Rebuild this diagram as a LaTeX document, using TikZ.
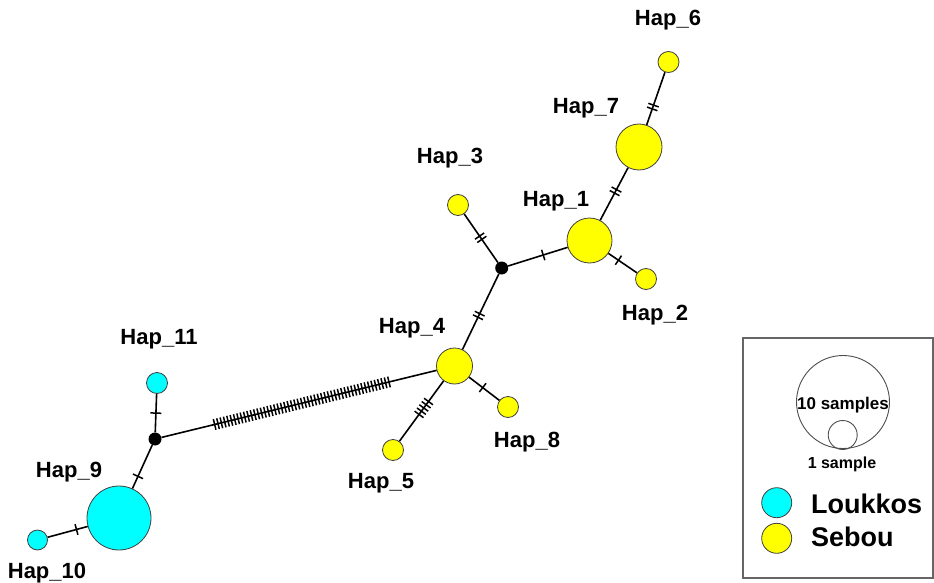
\documentclass[tikz,border=0pt]{standalone}
\usepackage{fontspec}
\setmainfont{Liberation Sans}
\usetikzlibrary{decorations.markings}
\definecolor{hcyan}{RGB}{0,255,255}
\definecolor{hyellow}{RGB}{255,255,0}
\tikzset{
  hapnode/.style={circle, draw=black!75, line width=0.8pt, inner sep=0pt, minimum size=#1},
  sebou/.style={hapnode=#1, fill=hyellow},
  loukkos/.style={hapnode=#1, fill=hcyan},
  median/.style={circle, fill=black, inner sep=0pt, minimum size=13pt},
  hlabel/.style={font=\bfseries\fontsize{22}{26}\selectfont, anchor=base, inner sep=0pt},
  edge/.style={line width=1.6pt},
  ticks/.style n args={3}{postaction={decorate, decoration={markings, mark=at position #3 with {\foreach \k in {1,...,#1}{\draw[line width=1.5pt] ({(\k-(#1+1)/2)*#2*1pt},-5.5pt) -- ({(\k-(#1+1)/2)*#2*1pt},5.5pt);}}}}},
}
\begin{document}
\begin{tikzpicture}[x=1pt,y=-1pt]
\useasboundingbox (0,0) rectangle (934,583);
% haplotype nodes
\node[sebou=21] (h6) at (668.5,62) {};
\node[sebou=46] (h7) at (639,147) {};
\node[sebou=45] (h1) at (589.5,240.5) {};
\node[sebou=21] (h2) at (646,279) {};
\node[sebou=21] (h3) at (458,205) {};
\node[median] (m1) at (501.7,268) {};
\node[sebou=36] (h4) at (454.5,366) {};
\node[sebou=21] (h8) at (508,407) {};
\node[sebou=21] (h5) at (393,450) {};
\node[loukkos=21] (h11) at (157,383) {};
\node[median] (m2) at (155,439) {};
\node[loukkos=64] (h9) at (119,518) {};
\node[loukkos=20] (h10) at (37.5,540) {};
% edges with mutation ticks
\draw[edge, ticks={2}{4}{0.66}] (h6) -- (h7);
\draw[edge, ticks={2}{4}{0.45}] (h7) -- (h1);
\draw[edge, ticks={1}{4}{0.35}] (h1) -- (h2);
\draw[edge, ticks={1}{4}{0.59}] (m1) -- (h1);
\draw[edge, ticks={2}{4}{0.49}] (h3) -- (m1);
\draw[edge, ticks={2}{4}{0.55}] (m1) -- (h4);
\draw[edge, ticks={1}{4}{0.45}] (h4) -- (h8);
\draw[edge, ticks={5}{4}{0.45}] (h4) -- (h5);
\draw[edge, ticks={53}{3.45}{0.51}] (m2) -- (h4);
\draw[edge, ticks={1}{4}{0.5}] (m2) -- (h11);
\draw[edge, ticks={1}{4}{0.72}] (m2) -- (h9);
\draw[edge, ticks={1}{4}{0.28}] (h9) -- (h10);
% labels
\node[hlabel] (l6) at (668,26) {Hap\_6};
\node[hlabel] (l7) at (586,114) {Hap\_7};
\node[hlabel] (l3) at (450,163) {Hap\_3};
\node[hlabel] (l1) at (556,206) {Hap\_1};
\node[hlabel] (l2) at (655,320) {Hap\_2};
\node[hlabel] (l4) at (412,333) {Hap\_4};
\node[hlabel] (l11) at (159,344) {Hap\_11};
\node[hlabel] (l8) at (527,447) {Hap\_8};
\node[hlabel] (l5) at (381,488) {Hap\_5};
\node[hlabel] (l9) at (69,477) {Hap\_9};
\node[hlabel] (l10) at (47,578) {Hap\_10};
% legend
\draw[draw=black!60, line width=1.4pt] (743,338) rectangle (933,578);
\node[hapnode=93, draw=black!70, line width=0.9pt] (big) at (843,402) {};
\node[hapnode=29, draw=black!70, line width=0.9pt] (small) at (842.7,435) {};
\node[font=\bfseries\fontsize{17}{20}\selectfont, anchor=base, inner sep=0pt] (t10) at (843,409) {10 samples};
\node[font=\bfseries\fontsize{16}{19}\selectfont, anchor=base, inner sep=0pt] (t1) at (842,468) {1 sample};
\node[loukkos=30] (kl) at (776.7,502.7) {};
\node[sebou=30] (ks) at (776.7,538.3) {};
\node[font=\bfseries\fontsize{27}{32}\selectfont, anchor=base west, inner sep=0pt] (tl) at (811,513) {Loukkos};
\node[font=\bfseries\fontsize{27}{32}\selectfont, anchor=base west, inner sep=0pt] (ts) at (811,546.5) {Sebou};
\end{tikzpicture}
\end{document}
